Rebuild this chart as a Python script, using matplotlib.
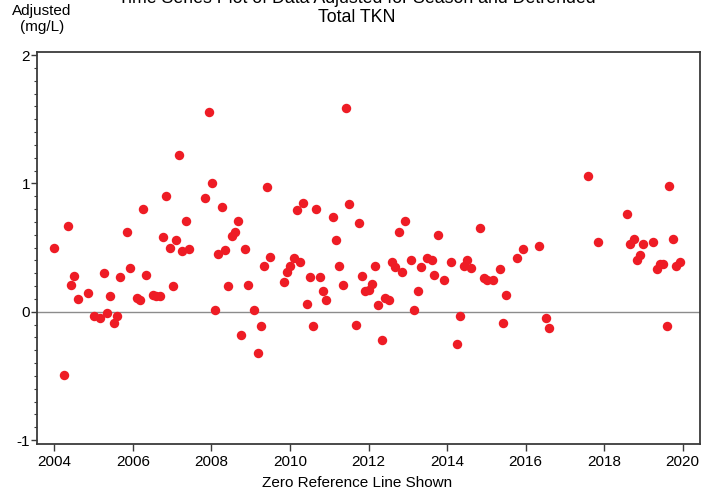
import matplotlib
matplotlib.use("Agg")
import matplotlib.pyplot as plt
from matplotlib.ticker import MultipleLocator

plt.rcParams['font.family'] = ['Liberation Sans Narrow', 'Liberation Sans', 'DejaVu Sans']

years = [2004.00, 2004.25, 2004.34, 2004.43, 2004.51, 2004.60, 2004.85, 2005.01, 2005.17, 2005.26,
         2005.34, 2005.43, 2005.51, 2005.60, 2005.68, 2005.85, 2005.94, 2006.10, 2006.18, 2006.27,
         2006.34, 2006.51, 2006.60, 2006.68, 2006.77, 2006.85, 2006.94, 2007.01, 2007.10, 2007.18,
         2007.26, 2007.35, 2007.44, 2007.85, 2007.93, 2008.02, 2008.10, 2008.18, 2008.26, 2008.35,
         2008.43, 2008.52, 2008.60, 2008.68, 2008.76, 2008.85, 2008.92, 2009.09, 2009.18, 2009.26,
         2009.34, 2009.41, 2009.50, 2009.84, 2009.93, 2010.01, 2010.10, 2010.18, 2010.26, 2010.34,
         2010.43, 2010.51, 2010.59, 2010.67, 2010.76, 2010.84, 2010.93, 2011.10, 2011.17, 2011.26,
         2011.34, 2011.42, 2011.50, 2011.68, 2011.75, 2011.84, 2011.92, 2012.00, 2012.09, 2012.17,
         2012.25, 2012.34, 2012.42, 2012.51, 2012.59, 2012.68, 2012.77, 2012.85, 2012.93, 2013.09,
         2013.17, 2013.27, 2013.34, 2013.50, 2013.61, 2013.68, 2013.77, 2013.93, 2014.10, 2014.26,
         2014.34, 2014.43, 2014.51, 2014.60, 2014.84, 2014.93, 2015.01, 2015.18, 2015.34, 2015.42,
         2015.51, 2015.77, 2015.93, 2016.34, 2016.51, 2016.59, 2017.58, 2017.84, 2018.58, 2018.67,
         2018.75, 2018.83, 2018.91, 2019.00, 2019.24, 2019.34, 2019.42, 2019.50, 2019.59, 2019.66,
         2019.75, 2019.84, 2019.93]

adjusted = [0.50, -0.49, 0.67, 0.21, 0.28, 0.10, 0.15, -0.03, -0.05, 0.30,
            -0.01, 0.12, -0.09, -0.03, 0.27, 0.62, 0.34, 0.11, 0.09, 0.80,
            0.29, 0.13, 0.12, 0.12, 0.58, 0.90, 0.50, 0.20, 0.56, 1.22,
            0.47, 0.71, 0.49, 0.89, 1.56, 1.00, 0.01, 0.45, 0.82, 0.48,
            0.20, 0.59, 0.62, 0.71, -0.18, 0.49, 0.21, 0.01, -0.32, -0.11,
            0.36, 0.97, 0.43, 0.23, 0.31, 0.36, 0.42, 0.79, 0.39, 0.85,
            0.06, 0.27, -0.11, 0.80, 0.27, 0.16, 0.09, 0.74, 0.56, 0.36,
            0.21, 1.59, 0.84, -0.10, 0.69, 0.28, 0.16, 0.17, 0.22, 0.36,
            0.05, -0.22, 0.11, 0.09, 0.39, 0.35, 0.62, 0.31, 0.71, 0.40,
            0.01, 0.16, 0.35, 0.42, 0.40, 0.29, 0.60, 0.25, 0.39, -0.25,
            -0.03, 0.36, 0.40, 0.34, 0.65, 0.26, 0.25, 0.25, 0.33, -0.09,
            0.13, 0.42, 0.49, 0.51, -0.05, -0.13, 1.06, 0.54, 0.76, 0.53,
            0.57, 0.40, 0.44, 0.53, 0.54, 0.33, 0.37, 0.37, -0.11, 0.98,
            0.57, 0.36, 0.39]

xticks = [2004, 2006, 2008, 2010, 2012, 2014, 2016, 2018, 2020]
yticks = [-1, 0, 1, 2]

fig = plt.figure(figsize=(7.18, 4.98), dpi=100)
ax = fig.add_axes([37/718, 54/498, 663/718, 392.3/498])

ax.axhline(0, color='#8c8c8c', lw=1.0, zorder=1)
ax.plot(years, adjusted, 'o', color='#ee1c25', markersize=6.8, markeredgewidth=0, zorder=3)

ax.set_xlim(2003.56, 2020.44)
ax.set_ylim(-1.03, 2.026)
ax.set_xticks(xticks)
ax.set_xticklabels([str(t) for t in xticks])
ax.set_yticks(yticks)
ax.set_yticklabels([str(t) for t in yticks])
ax.yaxis.set_minor_locator(MultipleLocator(0.1))

for s in ax.spines.values():
    s.set_color('#3a3a3a')
    s.set_linewidth(1.3)

ax.tick_params(axis='x', which='major', direction='out', length=5, width=1, color='#3a3a3a',
               labelsize=11, pad=3)
ax.tick_params(axis='y', which='major', direction='out', length=4, width=1, color='#3a3a3a',
               labelsize=11, pad=1)
ax.tick_params(axis='y', which='minor', direction='out', length=2, width=0.8, color='#3a3a3a')

fig.text(357/718, 1 - 8/498, 'Time Series Plot of Data Adjusted for Season and Detrended\nTotal TKN',
         ha='center', va='center', fontsize=12.8, linespacing=1.1)
fig.text(42/718, 1 - 19/498, 'Adjusted\n(mg/L)', ha='center', va='center', fontsize=11,
         linespacing=1.1)
fig.text(357/718, 1 - 483/498, 'Zero Reference Line Shown', ha='center', va='center', fontsize=11)

fig.savefig('out.png', dpi=100)
